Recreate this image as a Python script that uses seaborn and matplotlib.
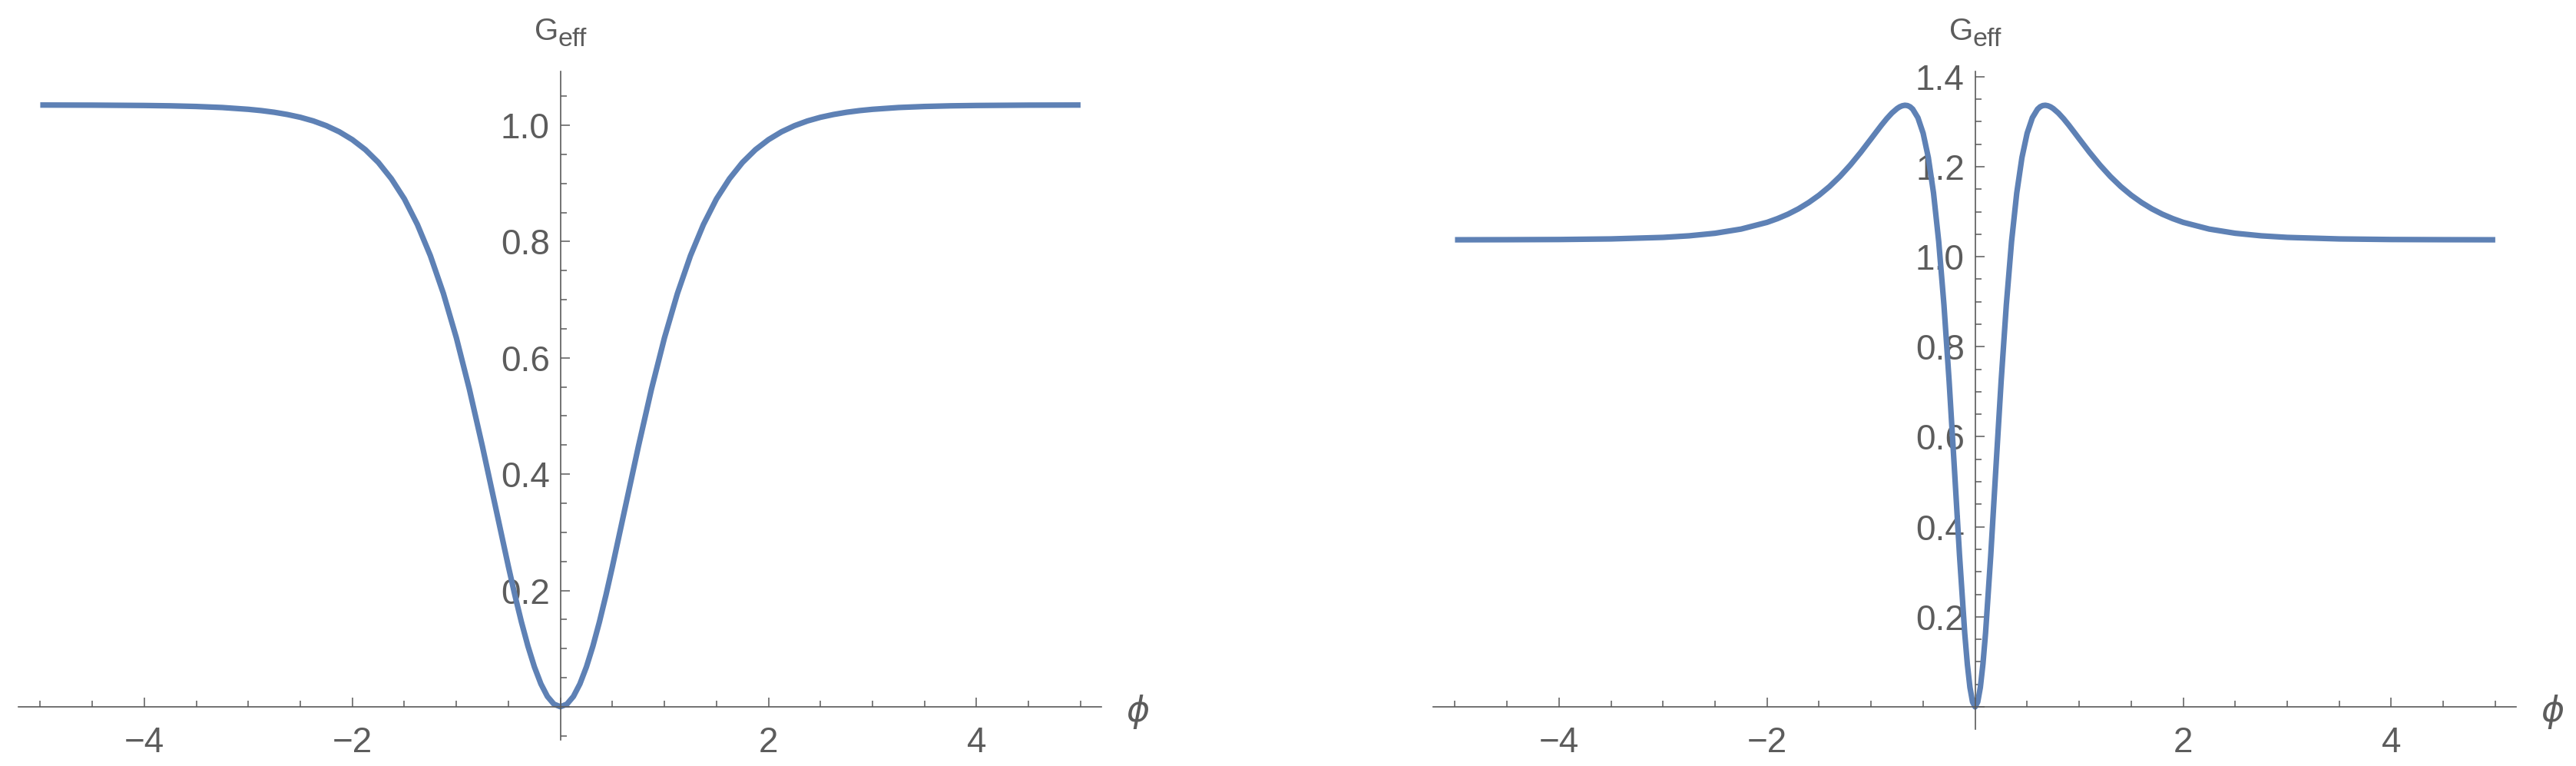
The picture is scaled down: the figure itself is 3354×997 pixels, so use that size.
import matplotlib
matplotlib.use("Agg")
import matplotlib.pyplot as plt
import seaborn as sns
from matplotlib.ticker import FixedLocator, FixedFormatter

# values (phi, G_eff)
phi_left = [-5.0, -4.5, -4.0, -3.75, -3.5, -3.25, -3.0, -2.875, -2.75, -2.625, -2.5, -2.375, -2.25,
            -2.125, -2.0, -1.875, -1.75, -1.625, -1.5, -1.375, -1.25, -1.125, -1.0, -0.875,
            -0.75, -0.625, -0.5, -0.4375, -0.375, -0.3125, -0.25, -0.1875, -0.125, -0.0625, 0.0,
            0.0625, 0.125, 0.1875, 0.25, 0.3125, 0.375, 0.4375, 0.5, 0.625, 0.75,
            0.875, 1.0, 1.125, 1.25, 1.375, 1.5, 1.625, 1.75, 1.875, 2.0, 2.125,
            2.25, 2.375, 2.5, 2.625, 2.75, 2.875, 3.0, 3.25, 3.5, 3.75, 4.0, 4.5, 5.0]
g_left = [1.0349, 1.0347, 1.0341, 1.0335, 1.0324, 1.0306, 1.0275, 1.0253, 1.0224, 1.0186, 1.0138, 1.0075, 0.9993,
          0.9888, 0.9753, 0.9581, 0.9361, 0.9081, 0.8734, 0.8294, 0.7757, 0.7109, 0.6344, 0.5461,
          0.4480, 0.3446, 0.2412, 0.1918, 0.1459, 0.1044, 0.0685, 0.0393, 0.0177, 0.0045, 0.0,
          0.0045, 0.0177, 0.0393, 0.0685, 0.1044, 0.1459, 0.1918, 0.2412, 0.3446, 0.4480,
          0.5461, 0.6344, 0.7109, 0.7757, 0.8294, 0.8734, 0.9081, 0.9361, 0.9581, 0.9753, 0.9888,
          0.9993, 1.0075, 1.0138, 1.0186, 1.0224, 1.0253, 1.0275, 1.0306, 1.0324, 1.0335, 1.0341, 1.0347, 1.0349]

phi_right = [-5.0, -4.5, -4.0, -3.5, -3.0, -2.75, -2.5, -2.25, -2.0, -1.9, -1.8, -1.7, -1.6,
             -1.5, -1.4, -1.3, -1.2, -1.1, -1.0, -0.95, -0.9, -0.85, -0.8, -0.75, -0.725,
             -0.7, -0.675, -0.65, -0.625, -0.6, -0.55, -0.5, -0.45, -0.4, -0.35, -0.3,
             -0.25, -0.2, -0.15, -0.1, -0.075, -0.05, -0.025, 0.0,
             0.025, 0.05, 0.075, 0.1, 0.15, 0.2, 0.25, 0.3, 0.35, 0.4, 0.45, 0.5,
             0.55, 0.6, 0.625, 0.65, 0.675, 0.7, 0.725, 0.75, 0.8, 0.85, 0.9, 0.95,
             1.0, 1.1, 1.2, 1.3, 1.4, 1.5, 1.6, 1.7, 1.8, 1.9, 2.0, 2.25, 2.5,
             2.75, 3.0, 3.5, 4.0, 4.5, 5.0]
g_right = [1.0376, 1.0378, 1.0382, 1.0395, 1.0429, 1.0464, 1.0521, 1.0614, 1.0763, 1.0846, 1.0944, 1.1062, 1.1203,
           1.1367, 1.1559, 1.1782, 1.2036, 1.2318, 1.2620, 1.2773, 1.2924, 1.3066, 1.3192, 1.3292, 1.3329,
           1.3353, 1.3364, 1.3357, 1.3330, 1.3278, 1.3087, 1.2744, 1.2203, 1.1415, 1.0335, 0.8936,
           0.7235, 0.5319, 0.3364, 0.1635, 0.0950, 0.0432, 0.0110, 0.0,
           0.0110, 0.0432, 0.0950, 0.1635, 0.3364, 0.5319, 0.7235, 0.8936, 1.0335, 1.1415, 1.2203, 1.2744,
           1.3087, 1.3278, 1.3330, 1.3357, 1.3364, 1.3353, 1.3329, 1.3292, 1.3192, 1.3066, 1.2924, 1.2773,
           1.2620, 1.2318, 1.2036, 1.1782, 1.1559, 1.1367, 1.1203, 1.1062, 1.0944, 1.0846, 1.0763, 1.0614, 1.0521,
           1.0464, 1.0429, 1.0395, 1.0382, 1.0378, 1.0376]

x_major = [-4, -2, 0, 2, 4]
x_labels = ["\u22124", "\u22122", "", "2", "4"]
x_minor = [-5, -4.5, -3.5, -3, -2.5, -1.5, -1, -0.5, 0.5, 1, 1.5, 2.5, 3, 3.5, 4.5, 5]

y_major_left = [0.0, 0.2, 0.4, 0.6, 0.8, 1.0]
y_labels_left = ["", "0.2", "0.4", "0.6", "0.8", "1.0"]
y_major_right = [0.0, 0.2, 0.4, 0.6, 0.8, 1.0, 1.2, 1.4]
y_labels_right = ["", "0.2", "0.4", "0.6", "0.8", "1.0", "1.2", "1.4"]

sns.set_style("white")
plt.rcParams["font.family"] = ["Liberation Sans", "DejaVu Sans"]
plt.rcParams["mathtext.fontset"] = "dejavusans"

line_col = "#5E81B5"
axis_col = "#5a5a5a"
text_col = "#5c5c5c"

fig = plt.figure(figsize=(33.55, 9.97), dpi=100)
ax1 = fig.add_axes([0.00715, 0.0341, 0.42027, 0.8729])
ax2 = fig.add_axes([0.55618, 0.0484, 0.42027, 0.8586])


def style_axes(ax, ylim, ymaj, ylab):
    ax.set_xlim(-5.21, 5.2)
    ax.set_ylim(*ylim)
    for s in ["top", "right"]:
        ax.spines[s].set_visible(False)
    ax.spines["left"].set_position(("data", 0))
    ax.spines["bottom"].set_position(("data", 0))
    for s in ["left", "bottom"]:
        ax.spines[s].set_color(axis_col)
        ax.spines[s].set_linewidth(1.2)
    ax.xaxis.set_major_locator(FixedLocator(x_major))
    ax.xaxis.set_major_formatter(FixedFormatter(x_labels))
    ax.xaxis.set_minor_locator(FixedLocator(x_minor))
    ymin = [round(v * 0.05, 2) for v in range(-1, int(ylim[1] / 0.05) + 1)]
    ymin = [v for v in ymin if abs(v / 0.2 - round(v / 0.2)) > 1e-6]
    ax.yaxis.set_major_locator(FixedLocator(ymaj))
    ax.yaxis.set_major_formatter(FixedFormatter(ylab))
    ax.yaxis.set_minor_locator(FixedLocator(ymin))
    ax.tick_params(which="both", direction="in", color=axis_col, width=1.1,
                   bottom=True, left=True, top=False, right=False,
                   labelcolor=text_col, labelsize=33)
    ax.tick_params(axis="x", which="major", length=8.5, pad=18)
    ax.tick_params(axis="x", which="minor", length=5.8)
    ax.tick_params(axis="y", which="major", length=8.5, pad=10)
    ax.tick_params(axis="y", which="minor", length=5.8)
    ax.set_xlabel("")
    ax.set_ylabel("")
    # G_eff label above the vertical axis
    ax.annotate("G", xy=(0, ylim[1]), xytext=(-2, 29.3),
                textcoords="offset points", ha="right", va="baseline",
                fontsize=29, color=text_col, annotation_clip=False)
    ax.annotate("eff", xy=(0, ylim[1]), xytext=(-2, 23.5),
                textcoords="offset points", ha="left", va="baseline",
                fontsize=24.5, color=text_col, annotation_clip=False)
    ax.annotate(r"$\phi$", xy=(5.2, 0), xytext=(34, -5),
                textcoords="offset points", ha="center", va="center",
                fontsize=33, color=text_col, annotation_clip=False)


sns.lineplot(x=phi_left, y=g_left, ax=ax1, color=line_col, linewidth=5.2)
sns.lineplot(x=phi_right, y=g_right, ax=ax2, color=line_col, linewidth=5.2)

style_axes(ax1, (-0.057, 1.093), y_major_left, y_labels_left)
style_axes(ax2, (-0.049, 1.412), y_major_right, y_labels_right)

for ax in (ax1, ax2):
    for ln in ax.lines:
        ln.set_clip_on(False)
        ln.set_solid_capstyle("butt")
        ln.set_solid_joinstyle("round")

fig.savefig("out.png", dpi=100, facecolor="white")
